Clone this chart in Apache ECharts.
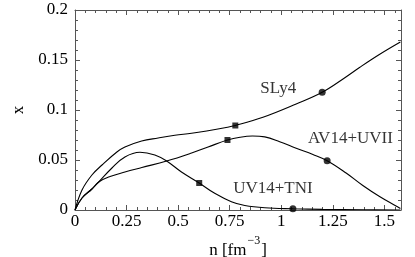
<!DOCTYPE html>
<html>
<head>
<meta charset="utf-8">
<script src="https://cdn.jsdelivr.net/npm/echarts@6/dist/echarts.min.js"></script>
<style>
html,body{margin:0;padding:0;background:#fff;}
#chart{width:415px;height:257px;}
</style>
</head>
<body>
<div id="chart"></div>
<script>
// ---- data ----
var sly4N = [0, 0.034, 0.082, 0.131, 0.203, 0.242, 0.323, 0.403, 0.484, 0.565, 0.645, 0.726, 0.777, 0.911, 1.072, 1.198, 1.306, 1.379, 1.475, 1.577];
var sly4X = [0, 0.020, 0.035, 0.045, 0.058, 0.063, 0.069, 0.072, 0.0747, 0.0767, 0.0793, 0.0823, 0.0845, 0.0927, 0.106, 0.1177, 0.132, 0.1425, 0.1555, 0.168];

var av14N = [0, 0.034, 0.082, 0.115, 0.17, 0.242, 0.324, 0.444, 0.565, 0.645, 0.739, 0.80, 0.86, 0.92, 0.992, 1.072, 1.153, 1.222, 1.314, 1.395, 1.476, 1.556, 1.577];
var av14X = [0, 0.012, 0.021, 0.028, 0.0335, 0.038, 0.0425, 0.049, 0.057, 0.063, 0.070, 0.0728, 0.0740, 0.0731, 0.0683, 0.0617, 0.0555, 0.0493, 0.037, 0.0245, 0.0135, 0.004, 0.0015];

var uv14N = [0, 0.034, 0.082, 0.115, 0.179, 0.242, 0.315, 0.387, 0.444, 0.516, 0.602, 0.677, 0.758, 0.823, 0.92, 1.056, 1.2, 1.4, 1.577];
var uv14X = [0, 0.012, 0.021, 0.028, 0.042, 0.053, 0.0577, 0.055, 0.049, 0.038, 0.027, 0.0167, 0.0083, 0.0045, 0.0022, 0.0012, 0.0006, 0.0002, 0];

var squareN = [0.777, 0.739, 0.602];
var squareX = [0.0845, 0.070, 0.027];
var circleN = [1.198, 1.222, 1.056];
var circleX = [0.1177, 0.0493, 0.0012];

var labelNames = ['SLy4', 'AV14+UVII', 'UV14+TNI'];
var labelN = [0.985, 1.335, 0.959];
var labelX = [0.121, 0.071, 0.021];

var xTicks = [0, 0.25, 0.5, 0.75, 1, 1.25, 1.5];
var yTicks = [0, 0.05, 0.1, 0.15, 0.2];

// ---- build ----
function zip(a, b) { return a.map(function (v, i) { return [v, b[i]]; }); }
var FONT = "'Liberation Serif', 'Times New Roman', serif";
var FRAME = '#555';

function mkX(pos, labels) {
  return {
    type: 'value', position: pos, min: 0, max: 1.58, interval: 0.25,
    axisLine: { show: true, onZero: false, lineStyle: { color: FRAME, width: 1 } },
    axisTick: { show: true, inside: true, length: 5, lineStyle: { color: FRAME } },
    minorTick: { show: true, splitNumber: 5, length: 3, lineStyle: { color: FRAME } },
    splitLine: { show: false }, minorSplitLine: { show: false },
    axisLabel: {
      show: labels, showMaxLabel: false, margin: 3, color: '#000', fontFamily: FONT, fontSize: 17,
      formatter: function (v) { return xTicks.indexOf(+v.toFixed(2)) >= 0 ? String(+v.toFixed(2)) : ''; }
    }
  };
}
function mkY(pos, labels) {
  return {
    type: 'value', position: pos, min: 0, max: 0.2, interval: 0.05,
    axisLine: { show: true, onZero: false, lineStyle: { color: FRAME, width: 1 } },
    axisTick: { show: true, inside: true, length: 5, lineStyle: { color: FRAME } },
    minorTick: { show: true, splitNumber: 5, length: 3, lineStyle: { color: FRAME } },
    splitLine: { show: false }, minorSplitLine: { show: false },
    axisLabel: {
      show: labels, margin: 7, color: '#000', fontFamily: FONT, fontSize: 17,
      formatter: function (v) { return yTicks.indexOf(+v.toFixed(2)) >= 0 ? String(+v.toFixed(2)) : ''; }
    }
  };
}

var xBottom = mkX('bottom', true);
xBottom.name = '{b|n [fm}{s|\u22123}{b|]}';
xBottom.nameLocation = 'middle';
xBottom.nameGap = 22;
xBottom.nameTextStyle = {
  color: '#000', fontFamily: FONT,
  rich: {
    b: { fontFamily: FONT, fontSize: 17, lineHeight: 24, verticalAlign: 'bottom', color: '#000' },
    s: { fontFamily: FONT, fontSize: 12, lineHeight: 12, verticalAlign: 'top', color: '#000', padding: [0, 1, 0, 1] }
  }
};
var yLeft = mkY('left', true);
yLeft.name = 'x';
yLeft.nameLocation = 'middle';
yLeft.nameRotate = 90;
yLeft.nameGap = 42;
yLeft.nameTextStyle = { color: '#000', fontFamily: FONT, fontSize: 17 };

var lineStyle = { color: '#000', width: 1.1 };
function lineSeries(name, n, x) {
  return { name: name, type: 'line', data: zip(n, x), smooth: 0.4, showSymbol: false, symbol: 'none', lineStyle: lineStyle, xAxisIndex: 0, yAxisIndex: 0, z: 2 };
}

var option = {
  animation: false,
  backgroundColor: '#fff',
  grid: { left: 75, right: 14, top: 10, bottom: 47, containLabel: false, outerBoundsMode: 'none' },
  xAxis: [xBottom, mkX('top', false)],
  yAxis: [yLeft, mkY('right', false)],
  series: [
    lineSeries('SLy4', sly4N, sly4X),
    lineSeries('AV14+UVII', av14N, av14X),
    lineSeries('UV14+TNI', uv14N, uv14X),
    { type: 'scatter', data: zip(squareN, squareX), symbol: 'rect', symbolSize: 6, itemStyle: { color: '#000' }, z: 3 },
    { type: 'scatter', data: zip(circleN, circleX), symbol: 'circle', symbolSize: 7, itemStyle: { color: '#000' }, z: 3 },
    {
      type: 'scatter', symbolSize: 0, silent: true, z: 4,
      data: labelNames.map(function (nm, i) { return { name: nm, value: [labelN[i], labelX[i]] }; }),
      label: { show: true, position: 'inside', formatter: '{b}', color: '#000', fontFamily: FONT, fontSize: 17 }
    }
  ]
};
var chart = echarts.init(document.getElementById('chart'), null, { renderer: 'canvas' });
chart.setOption(option);
</script>
</body>
</html>
